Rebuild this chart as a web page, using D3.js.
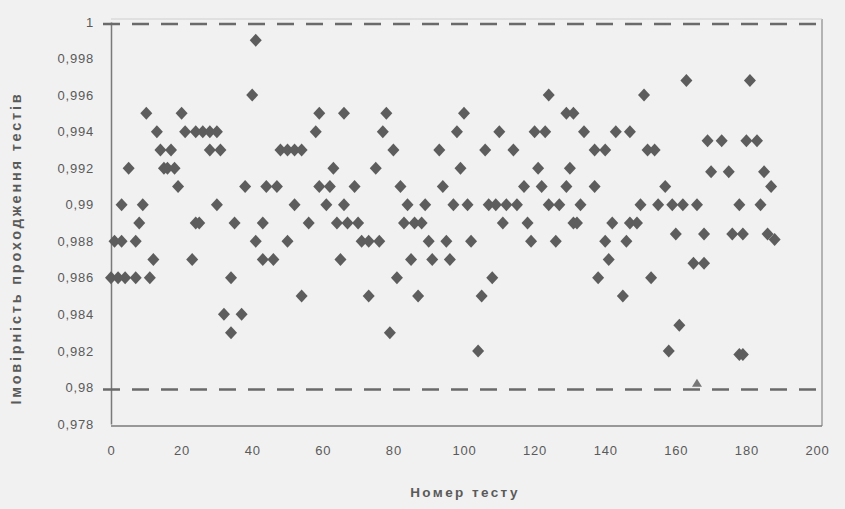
<!DOCTYPE html>
<html lang="uk">
<head>
<meta charset="UTF-8">
<title>Імовірність проходження тестів</title>
<script src="https://d3js.org/d3.v7.min.js"></script>
<style>
  body { margin: 0; background: #f1f1f1; font-family: Arial, "Liberation Sans", sans-serif; }
  svg { display: block; }
</style>
</head>
<body>
<div id="chart"></div>
<script>
// test number / probability pairs
const testNo = [0, 1, 2, 3, 3, 4, 5, 7, 7, 8, 9, 10, 11, 12, 13, 14, 15, 16, 17, 18, 19, 20, 21, 23, 24, 24, 25, 26, 28, 28,
  30, 30, 31, 32, 34, 34, 35, 37, 38, 40, 41, 41, 43, 43, 44, 46, 47, 48, 50, 50, 52, 52, 54, 54, 56, 58, 59, 59, 61, 62,
  63, 64, 65, 66, 66, 67, 69, 70, 71, 73, 73, 75, 76, 77, 78, 79, 80, 81, 82, 83, 84, 85, 86, 87, 88, 89, 90, 91, 93, 94,
  95, 96, 97, 98, 99, 100, 101, 102, 104, 105, 106, 107, 108, 109, 110, 111, 112, 114, 115, 117, 118, 119, 120, 121, 122, 123, 124, 124, 126, 127,
  129, 129, 130, 131, 131, 132, 133, 134, 137, 137, 138, 140, 140, 141, 142, 143, 145, 146, 147, 147, 149, 150, 151, 152, 153, 154, 155, 157, 158, 159,
  160, 161, 162, 163, 165, 166, 168, 168, 169, 170, 173, 175, 176, 178, 178, 179, 179, 180, 181, 183, 184, 185, 186, 187, 188];

const prob = [0.986, 0.988, 0.986, 0.988, 0.99, 0.986, 0.992, 0.988, 0.986, 0.989, 0.99, 0.995, 0.986, 0.987, 0.994, 0.993, 0.992, 0.992, 0.993, 0.992, 0.991, 0.995, 0.994, 0.987, 0.994, 0.989, 0.989, 0.994, 0.994, 0.993,
  0.994, 0.99, 0.993, 0.984, 0.983, 0.986, 0.989, 0.984, 0.991, 0.996, 0.999, 0.988, 0.987, 0.989, 0.991, 0.987, 0.991, 0.993, 0.993, 0.988, 0.993, 0.99, 0.993, 0.985, 0.989, 0.994, 0.995, 0.991, 0.99, 0.991,
  0.992, 0.989, 0.987, 0.99, 0.995, 0.989, 0.991, 0.989, 0.988, 0.988, 0.985, 0.992, 0.988, 0.994, 0.995, 0.983, 0.993, 0.986, 0.991, 0.989, 0.99, 0.987, 0.989, 0.985, 0.989, 0.99, 0.988, 0.987, 0.993, 0.991,
  0.988, 0.987, 0.99, 0.994, 0.992, 0.995, 0.99, 0.988, 0.982, 0.985, 0.993, 0.99, 0.986, 0.99, 0.994, 0.989, 0.99, 0.993, 0.99, 0.991, 0.989, 0.988, 0.994, 0.992, 0.991, 0.994, 0.996, 0.99, 0.988, 0.99,
  0.995, 0.991, 0.992, 0.995, 0.989, 0.989, 0.99, 0.994, 0.993, 0.991, 0.986, 0.993, 0.988, 0.987, 0.989, 0.994, 0.985, 0.988, 0.994, 0.989, 0.989, 0.99, 0.996, 0.993, 0.986, 0.993, 0.99, 0.991, 0.982, 0.99,
  0.9884, 0.9834, 0.99, 0.9968, 0.9868, 0.99, 0.9884, 0.9868, 0.9935, 0.9918, 0.9935, 0.9918, 0.9884, 0.99, 0.9818, 0.9884, 0.9818, 0.9935, 0.9968, 0.9935, 0.99, 0.9918, 0.9884, 0.991, 0.9881];

// lone triangle marker sitting on the lower limit
const triangleNo = [166];
const triangleProb = [0.9802];

// limit lines
const limits = [1, 0.98];

const xTicks = [0, 20, 40, 60, 80, 100, 120, 140, 160, 180, 200];
const yTicks = [0.978, 0.98, 0.982, 0.984, 0.986, 0.988, 0.99, 0.992, 0.994, 0.996, 0.998, 1];

const width = 845, height = 509;
const margin = { top: 22, right: 28, bottom: 85, left: 111 };

const svg = d3.select("#chart").append("svg")
  .attr("width", width)
  .attr("height", height);

const x = d3.scaleLinear().domain([0, 200]).range([margin.left, width - margin.right]);
const y = d3.scaleLinear().domain([0.978, 1]).range([height - margin.bottom, margin.top]);

const plotRight = width - margin.right + 5;

// frame: right edge + faint top edge
svg.append("line")
  .attr("x1", plotRight).attr("x2", plotRight)
  .attr("y1", margin.top - 3).attr("y2", y(0.978) + 2)
  .attr("stroke", "#8a8a8a").attr("stroke-width", 1.2);
svg.append("line")
  .attr("x1", margin.left).attr("x2", plotRight)
  .attr("y1", margin.top - 3).attr("y2", margin.top - 3)
  .attr("stroke", "#cfcfcf").attr("stroke-width", 1);

// axes
const fmt = d => String(d).replace(".", ",");

const yAxis = svg.append("g")
  .attr("transform", `translate(${margin.left},0)`)
  .call(d3.axisLeft(y).tickValues(yTicks).tickFormat(fmt).tickSize(0).tickPadding(17));

const xAxis = svg.append("g")
  .attr("transform", `translate(0,${y(0.978) + 2})`)
  .call(d3.axisBottom(x).tickValues(xTicks).tickFormat(fmt).tickSize(0).tickPadding(20));

[xAxis, yAxis].forEach(g => {
  g.select(".domain").attr("stroke", "#7a7a7a").attr("stroke-width", 1.5);
  g.selectAll("text")
    .attr("fill", "#5a5a5a")
    .style("font-size", "13px")
    .style("letter-spacing", "0.8px")
    .style("font-family", "Arial, 'Liberation Sans', sans-serif");
});
xAxis.select(".domain").attr("d", `M${margin.left},0H${plotRight}`);

// dashed limit lines
svg.selectAll("line.limit")
  .data(limits)
  .enter().append("line")
  .attr("class", "limit")
  .attr("x1", margin.left - 8)
  .attr("x2", plotRight)
  .attr("y1", d => y(d) + 2)
  .attr("y2", d => y(d) + 2)
  .attr("stroke", "#6a6a6a")
  .attr("stroke-width", 2.5)
  .attr("stroke-dasharray", "17,12");

// diamonds
const points = testNo.map((t, i) => ({ t: t, p: prob[i] }));
svg.append("g")
  .selectAll("path.pt")
  .data(points)
  .enter().append("path")
  .attr("class", "pt")
  .attr("d", "M0,-6.5L6,0L0,6.5L-6,0Z")
  .attr("transform", d => `translate(${x(d.t)},${y(d.p)})`)
  .attr("fill", "#5d5d5d");

// triangle
svg.append("g")
  .selectAll("path.tri")
  .data(triangleNo.map((t, i) => ({ t: t, p: triangleProb[i] })))
  .enter().append("path")
  .attr("class", "tri")
  .attr("d", "M0,-5L5,3L-5,3Z")
  .attr("transform", d => `translate(${x(d.t)},${y(d.p)})`)
  .attr("fill", "#777");

// axis titles
svg.append("text")
  .attr("x", 465)
  .attr("y", 497)
  .attr("text-anchor", "middle")
  .attr("fill", "#5a5a5a")
  .style("font-size", "13.5px")
  .style("font-weight", "bold")
  .style("letter-spacing", "2.4px")
  .text("Номер тесту");

svg.append("text")
  .attr("transform", `translate(21,248) rotate(-90)`)
  .attr("text-anchor", "middle")
  .attr("fill", "#5a5a5a")
  .style("font-size", "14.5px")
  .style("font-weight", "bold")
  .style("letter-spacing", "2.8px")
  .text("Імовірність проходження тестів");
</script>
</body>
</html>
